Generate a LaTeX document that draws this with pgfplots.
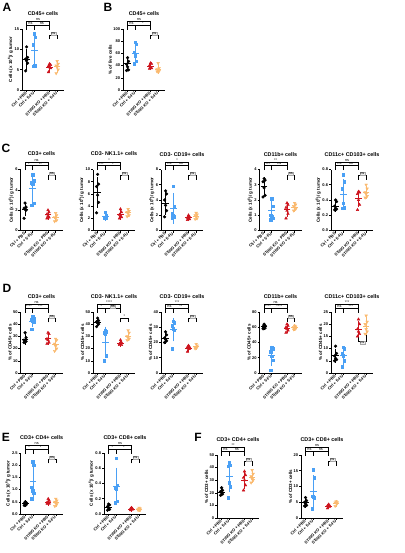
\documentclass[border=0pt]{standalone}
\usepackage{pgfplots}
\pgfplotsset{compat=1.18}
\usepackage{fontspec}
\setmainfont{Liberation Sans}
\definecolor{cblu}{RGB}{74,160,245}
\definecolor{cred}{RGB}{205,20,30}
\definecolor{corg}{RGB}{250,185,110}
\newcommand{\ttl}{\bfseries\fontsize{5.4}{6}\selectfont}
\newcommand{\tkl}{\bfseries\fontsize{4}{4.5}\selectfont}
\newcommand{\lbl}{\bfseries\fontsize{4.5}{5}\selectfont}
\newcommand{\sig}{\fontsize{3.8}{4}\selectfont}
\newcommand{\cl}{Cells (x 10\textsuperscript{6})/ g tumor}
\pgfplotsset{
 msd/.style={only marks, mark=-, mark size=3.3pt, mark options={line width=0.65pt},
   error bars/.cd, y dir=both, y explicit, error bar style={line width=0.55pt},
   error mark options={line width=0.55pt, mark size=1.8pt}},
 gp/.style={
  scale only axis, width=42pt, height=61pt,
  xmin=0.4, xmax=5.9, ymin=0,
  axis x line*=bottom, axis y line*=left,
  axis line style={line width=0.8pt},
  every tick/.style={black, line width=0.55pt},
  major tick length=2pt, tick align=outside,
  xtick={1,2,4,5},
  xticklabels={Ctrl + PBS, Ctrl + 5-FU, STING KO + PBS, STING KO + 5-FU},
  x tick label style={rotate=45, anchor=east, font=\tkl, inner sep=0.6pt},
  y tick label style={font=\tkl, inner sep=0.8pt},
  /pgf/number format/assume math mode=true,
  ylabel style={font=\lbl, inner sep=0.5pt},
  title style={font=\ttl, at={(0.5,1)}, anchor=base, yshift=7.5pt},
  clip=false, scaled y ticks=false,
 },
 dec/.style={yticklabel style={/pgf/number format/.cd, fixed, fixed zerofill, precision=1}},
}
\newcommand{\gone}[8]{\addplot[black, only marks, mark=*, mark size=1.4pt] coordinates {(1,#1)(1.13,#2)(0.87,#3)(1,#4)(1.13,#5)(0.87,#6)};
\addplot[black, msd] coordinates {(1,#7) +- (0,#8)};}
\newcommand{\gtwo}[8]{\addplot[cblu, only marks, mark=square*, mark size=1.25pt] coordinates {(2,#1)(2.13,#2)(1.87,#3)(2,#4)(2.13,#5)(1.87,#6)};
\addplot[cblu, msd] coordinates {(2,#7) +- (0,#8)};}
\newcommand{\gthree}[8]{\addplot[cred, only marks, mark=triangle*, mark size=1.55pt] coordinates {(4,#1)(4.13,#2)(3.87,#3)(4,#4)(4.13,#5)(3.87,#6)};
\addplot[cred, msd] coordinates {(4,#7) +- (0,#8)};}
\newcommand{\gfour}[8]{\addplot[corg, only marks, mark=triangle*, mark options={rotate=180}, mark size=1.55pt] coordinates {(5,#1)(5.13,#2)(4.87,#3)(5,#4)(5.13,#5)(4.87,#6)};
\addplot[corg, msd] coordinates {(5,#7) +- (0,#8)};}
\newcommand{\brk}[7][]{%
 \draw[line width=0.5pt] ({axis cs:#2,0}|-{rel axis cs:0,#6}) -- ({axis cs:#2,0}|-{rel axis cs:0,#5}) -- ({axis cs:#3,0}|-{rel axis cs:0,#5}) -- ({axis cs:#3,0}|-{rel axis cs:0,#6});
 \node[font=\sig, anchor=south, inner sep=0.3pt, #1] at ({axis cs:#4,0}|-{rel axis cs:0,#5}) {#7};}
\newcommand{\brs}[4]{%
 \brk{1}{4}{2.5}{1.125}{1.065}{#1}
 \brk{1}{2}{1.5}{1.065}{0.99}{#2}
 \brk{2}{4}{3}{1.065}{0.99}{#3}
 \brk[draw=gray!70, fill=gray!15, line width=0.3pt, inner sep=0.5pt]{4}{5}{4.5}{0.9}{0.83}{#4}}
\begin{document}
\begin{tikzpicture}
\useasboundingbox (0,0) rectangle (404pt,-553pt);
\tikzset{plet/.style={font=\bfseries\fontsize{12}{12}\selectfont, inner sep=0pt}}
\node[plet] at (7pt,-7pt) {A};
\node[plet] at (108pt,-7pt) {B};
\node[plet] at (6pt,-148pt) {C};
\node[plet] at (7pt,-288pt) {D};
\node[plet] at (6pt,-437pt) {E};
\node[plet] at (198pt,-437pt) {F};
% A
\begin{axis}[gp, at={(22pt,-90pt)}, anchor=south west, ymax=15, ytick={0,5,10,15}, title={CD45+ cells}, ylabel={\cl}]
\gone{10.6}{8.0}{7.6}{7.2}{6.6}{4.7}{7.5}{2.1}
\gtwo{13.9}{13.0}{11.2}{6.1}{6.0}{5.9}{9.7}{3.9}
\gthree{6.4}{6.2}{5.9}{5.6}{5.4}{4.4}{5.6}{0.7}
\gfour{7.1}{6.4}{6.0}{5.6}{5.0}{4.1}{5.7}{1.0}
\brs{ns}{ns}{ns}{ns}
\end{axis}
% B
\begin{axis}[gp, at={(123pt,-90pt)}, anchor=south west, ymax=100, ytick={0,20,40,60,80,100}, title={CD45+ cells}, ylabel={\% of live cells}]
\gone{53}{47}{42}{38}{33}{32}{43}{8}
\gtwo{78}{75}{62}{56}{47}{43}{60}{15}
\gthree{44}{43}{40}{38}{36}{35}{39}{3.6}
\gfour{44}{36}{34}{32}{31}{30}{34.5}{5}
\brs{ns}{ns}{*}{ns}
\end{axis}
% C1
\begin{axis}[gp, at={(20.5pt,-230.5pt)}, anchor=south west, ymax=6, ytick={0,2,4,6}, title={CD3+ cells}, ylabel={\cl}]
\gone{2.7}{2.3}{2.2}{2.1}{2.0}{1.2}{2.1}{0.5}
\gtwo{5.5}{4.9}{4.7}{4.6}{2.7}{2.5}{4.1}{1.2}
\gthree{2.0}{1.8}{1.6}{1.4}{1.3}{1.2}{1.55}{0.3}
\gfour{1.7}{1.5}{1.3}{1.2}{1.0}{0.9}{1.27}{0.3}
\brs{ns}{*}{**}{ns}
\end{axis}
% C2
\begin{axis}[gp, at={(93pt,-230.5pt)}, anchor=south west, ymax=10, ytick={0,2,4,6,8,10}, title={CD3- NK1.1+ cells}, ylabel={\cl}]
\gone{9.2}{7.6}{7.2}{5.8}{4.6}{2.9}{6.2}{2.2}
\gtwo{3.0}{2.5}{2.2}{2.1}{2.0}{2.0}{2.3}{0.4}
\gthree{3.5}{3.0}{2.6}{2.4}{2.2}{2.0}{2.6}{0.55}
\gfour{3.5}{3.2}{3.0}{2.8}{2.5}{2.3}{2.9}{0.45}
\brs{*}{***}{*}{ns}
\end{axis}
% C3
\begin{axis}[gp, at={(161pt,-230.5pt)}, anchor=south west, ymax=8, ytick={0,2,4,6,8}, title={CD3- CD19+ cells}, ylabel={\cl}]
\gone{5.2}{4.8}{4.0}{3.3}{2.6}{1.8}{3.6}{1.3}
\gtwo{5.8}{3.2}{2.2}{2.0}{1.8}{1.7}{2.9}{1.8}
\gthree{2.0}{1.8}{1.7}{1.6}{1.5}{1.4}{1.67}{0.2}
\gfour{2.3}{2.1}{2.0}{1.8}{1.6}{1.5}{1.88}{0.3}
\brs{*}{ns}{ns}{ns}
\end{axis}
% C4
\begin{axis}[gp, at={(259.5pt,-230.5pt)}, anchor=south west, ymax=4, ytick={0,1,2,3,4}, title={CD11b+ cells}, ylabel={\cl}]
\gone{3.4}{3.3}{3.2}{2.8}{2.3}{2.2}{2.87}{0.5}
\gtwo{2.1}{1.6}{1.0}{0.9}{0.8}{0.7}{1.3}{0.6}
\gthree{1.8}{1.7}{1.5}{1.3}{1.1}{0.8}{1.37}{0.37}
\gfour{1.8}{1.7}{1.6}{1.5}{1.4}{1.3}{1.55}{0.19}
\brs{**}{***}{ns}{ns}
\end{axis}
% C5
\begin{axis}[gp, dec, at={(331pt,-230.5pt)}, anchor=south west, ymax=0.8, ytick={0,0.2,0.4,0.6,0.8}, title={CD11c+ CD103+ cells}, ylabel={\cl}]
\gone{0.40}{0.38}{0.32}{0.29}{0.28}{0.27}{0.32}{0.055}
\gtwo{0.73}{0.64}{0.55}{0.36}{0.30}{0.29}{0.47}{0.18}
\gthree{0.51}{0.50}{0.48}{0.40}{0.34}{0.27}{0.42}{0.09}
\gfour{0.60}{0.55}{0.50}{0.48}{0.45}{0.43}{0.50}{0.06}
\brs{ns}{ns}{ns}{ns}
\end{axis}
% D1
\begin{axis}[gp, at={(20.5pt,-373pt)}, anchor=south west, ymax=50, ytick={0,10,20,30,40,50}, title={CD3+ cells}, ylabel={\% of CD45+ cells}]
\gone{33}{29}{27}{26}{26}{25}{27.7}{2.9}
\gtwo{46}{45}{44}{43}{42}{36}{42.7}{3.5}
\gthree{33}{32}{28}{27}{25}{24}{28.2}{3.6}
\gfour{28}{27}{24}{22}{20}{18}{23.2}{3.9}
\brs{ns}{****}{***}{ns}
\end{axis}
% D2
\begin{axis}[gp, at={(93pt,-373pt)}, anchor=south west, ymax=50, ytick={0,10,20,30,40,50}, title={CD3- NK1.1+ cells}, ylabel={\% of CD45+ cells}]
\gone{45}{43}{42}{41}{40}{38}{41.5}{2.4}
\gtwo{35}{34}{33}{32}{14}{10}{25}{11.5}
\gthree{27}{25}{24}{24}{23}{23}{24.3}{1.5}
\gfour{35}{33}{30}{29}{28}{27}{30.3}{3}
\brk{1}{4}{2.5}{1.125}{1.065}{****}
\brk{1}{2}{1.5}{1.065}{0.99}{*}
\brk[draw=gray!70, fill=gray!15, line width=0.3pt, inner sep=0.5pt]{2}{4}{3}{1.065}{0.99}{ns}
\brk{4}{5}{4.5}{0.9}{0.83}{*}
\end{axis}
% D3
\begin{axis}[gp, at={(161pt,-373pt)}, anchor=south west, ymax=40, ytick={0,10,20,30,40}, title={CD3- CD19+ cells}, ylabel={\% of CD45+ cells}]
\gone{27}{25}{23}{22}{21}{20}{23}{2.6}
\gtwo{34}{33}{31}{29}{28}{16}{28.5}{6.5}
\gthree{18}{17}{17}{16}{16}{14}{16.3}{1.4}
\gfour{19}{18}{17}{17}{17}{16}{17.3}{1}
\brs{***}{ns}{**}{ns}
\end{axis}
% D4
\begin{axis}[gp, at={(259.5pt,-373pt)}, anchor=south west, ymax=80, ytick={0,20,40,60,80}, title={CD11b+ cells}, ylabel={\% of CD45+ cells}]
\gone{64}{62}{61}{60}{59}{58}{60.7}{2.2}
\gtwo{33}{32}{28}{22}{17}{4}{22.7}{11}
\gthree{64}{62}{60}{58}{56}{53}{58.8}{4}
\gfour{62}{61}{60}{59}{58}{57}{59.5}{1.9}
\brs{ns}{****}{****}{ns}
\end{axis}
% D5
\begin{axis}[gp, at={(331pt,-373pt)}, anchor=south west, ymax=25, ytick={0,5,10,15,20,25}, title={CD11c+ CD103+ cells}, ylabel={\% of CD45+ cells}]
\brk[draw=gray!70, fill=gray!15, line width=0.3pt, inner sep=0.5pt, anchor=north]{4}{5}{4.5}{0.52}{0.71}{ns}
\gone{11}{8}{7}{6}{5.5}{5}{7.1}{2.2}
\gtwo{10.5}{10}{8}{7}{5}{2.5}{7.2}{3}
\gthree{22}{20}{18}{17}{16}{15}{18}{2.6}
\gfour{23.5}{21}{20}{18}{17}{16}{19.3}{2.8}
\brk{1}{4}{2.5}{1.125}{1.065}{***}
\brk{1}{2}{1.5}{1.065}{0.99}{ns}
\brk{2}{4}{3}{1.065}{0.99}{***}
\end{axis}
% E1
\begin{axis}[gp, dec, at={(20.7pt,-514pt)}, anchor=south west, ymax=2.5, ytick={0,0.5,1,1.5,2,2.5}, title={CD3+ CD4+ cells}, ylabel={\cl}]
\gone{0.50}{0.47}{0.44}{0.40}{0.38}{0.35}{0.42}{0.06}
\gtwo{2.15}{2.0}{1.1}{0.95}{0.85}{0.62}{1.33}{0.65}
\gthree{0.62}{0.55}{0.48}{0.45}{0.43}{0.42}{0.49}{0.08}
\gfour{0.62}{0.55}{0.50}{0.45}{0.40}{0.32}{0.47}{0.1}
\brs{ns}{*}{*}{ns}
\end{axis}
% E2
\begin{axis}[gp, dec, at={(104pt,-514pt)}, anchor=south west, ymax=0.8, ytick={0,0.2,0.4,0.6,0.8}, title={CD3+ CD8+ cells}, ylabel={\cl}]
\gone{0.13}{0.12}{0.10}{0.08}{0.06}{0.05}{0.09}{0.03}
\gtwo{0.73}{0.38}{0.34}{0.33}{0.17}{0.15}{0.36}{0.22}
\gthree{0.08}{0.07}{0.07}{0.06}{0.06}{0.05}{0.065}{0.01}
\gfour{0.08}{0.07}{0.06}{0.06}{0.05}{0.05}{0.062}{0.012}
\brs{ns}{*}{*}{ns}
\end{axis}
% F1
\begin{axis}[gp, height=63pt, at={(217pt,-518pt)}, anchor=south west, ymax=50, ytick={0,10,20,30,40,50}, title={CD3+ CD4+ cells}, ylabel={\% of CD3+ cells}]
\gone{24}{22}{21}{20}{19}{18}{20.7}{2.2}
\gtwo{44}{42}{41}{28}{25}{16}{32.7}{11}
\gthree{37}{34}{32}{30}{26}{22}{30.2}{5.4}
\gfour{38}{35}{33}{31}{30}{28}{32.5}{3.6}
\brs{**}{ns}{ns}{ns}
\end{axis}
% F2
\begin{axis}[gp, height=63pt, at={(301pt,-518pt)}, anchor=south west, ymax=20, ytick={0,5,10,15,20}, title={CD3+ CD8+ cells}, ylabel={\% of CD3+ cells}]
\gone{6.5}{5.5}{5.0}{4.5}{4.0}{3.8}{4.9}{1.0}
\gtwo{15.3}{12.8}{7.0}{6.8}{6.5}{3.0}{8.6}{4.5}
\gthree{4.3}{4.0}{3.9}{3.8}{3.6}{3.1}{3.8}{0.4}
\gfour{5.3}{5.0}{4.9}{4.8}{4.6}{3.8}{4.7}{0.5}
\brs{ns}{ns}{ns}{ns}
\end{axis}
\end{tikzpicture}
\end{document}
